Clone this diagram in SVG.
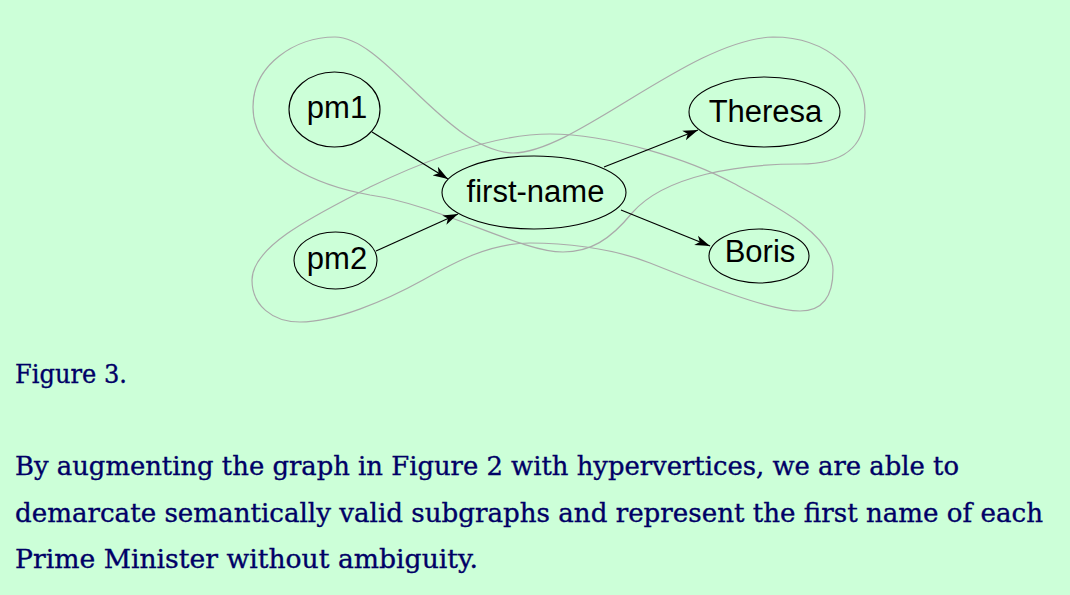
<svg xmlns="http://www.w3.org/2000/svg" width="1070" height="595" viewBox="0 0 1070 595">
<style>
.bg{fill:#ccffd8}
.hv{fill:none;stroke:#aaaaaa;stroke-width:1.2}
.node ellipse{fill:none;stroke:#000;stroke-width:1.1}
.node text{font-family:"Liberation Sans",Arial,sans-serif;font-size:31px;fill:#000;text-anchor:middle}
.edge{stroke:#000;stroke-width:1.2;fill:none;marker-end:url(#arr)}
.cap{font-family:"DejaVu Serif","Liberation Serif",serif;font-size:26px;fill:#000066;stroke:#000066;stroke-width:0.35}
</style>
<defs>
<marker id="arr" markerUnits="userSpaceOnUse" markerWidth="16" markerHeight="12" refX="15" refY="5" orient="auto" viewBox="0 0 16 10">
<path d="M0,0 L15,5 L0,10 L4,5 z" fill="#000"/>
</marker>
</defs>
<rect class="bg" x="0" y="0" width="1070" height="595"/>
<g id="hypervertices">
<path id="hv-theresa" class="hv" d="M335,37 C385,37 445,150 513,153 C575,153 690,40 773,37 C830,37 865,75 865,112 C865,150 840,164 800,164 C740,164 665,175 632,213 C610,240 590,252 563,252 C520,252 440,205 370,195 C320,186 253,160 253,107 C253,65 295,37 335,37 Z"/>
<path id="hv-boris" class="hv" d="M252,280 C252,245 320,213 370,187 C420,163 490,134 550,134 C610,134 690,160 733,183 C776,206 833,235 833,270 C833,300 820,311 800,311 C770,311 700,283 650,263 C610,247 560,243 530,243 C490,243 455,262 423,280 C385,301 335,322 300,322 C272,322 252,305 252,280 Z"/>
</g>
<g id="connectors">
<line class="edge" x1="372" y1="132" x2="448" y2="179"/>
<line class="edge" x1="376" y1="251" x2="458" y2="214"/>
<line class="edge" x1="604" y1="167" x2="698" y2="130"/>
<line class="edge" x1="621" y1="210" x2="710" y2="246"/>
</g>
<g id="node-pm1" class="node"><ellipse cx="334.5" cy="109.5" rx="45.5" ry="37.5"/><text x="337" y="118">pm1</text></g>
<g id="node-pm2" class="node"><ellipse cx="335.5" cy="260.5" rx="41.5" ry="28.5"/><text x="337" y="269">pm2</text></g>
<g id="node-first-name" class="node"><ellipse cx="534" cy="192.5" rx="92" ry="36.5"/><text x="535.5" y="202">first-name</text></g>
<g id="node-theresa" class="node"><ellipse cx="764.5" cy="112" rx="75.5" ry="35"/><text x="765.5" y="122">Theresa</text></g>
<g id="node-boris" class="node"><ellipse cx="759" cy="256" rx="50" ry="27"/><text x="760" y="262">Boris</text></g>
<g id="caption">
<text class="cap" x="15" y="383" textLength="112" lengthAdjust="spacingAndGlyphs">Figure 3.</text>
<text class="cap" x="15" y="475" textLength="944" lengthAdjust="spacingAndGlyphs">By augmenting the graph in Figure 2 with hypervertices, we are able to</text>
<text class="cap" x="15" y="521.5" textLength="1028" lengthAdjust="spacingAndGlyphs">demarcate semantically valid subgraphs and represent the first name of each</text>
<text class="cap" x="15" y="568" textLength="463" lengthAdjust="spacingAndGlyphs">Prime Minister without ambiguity.</text>
</g>
</svg>
